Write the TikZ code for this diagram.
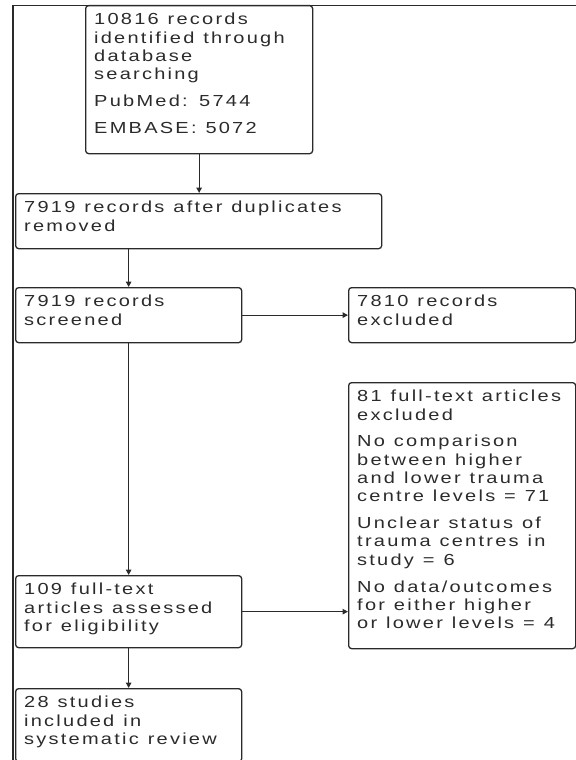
\documentclass[tikz,border=0pt]{standalone}
\usepackage{fontspec}
\setmainfont{Liberation Sans}
\newfontfamily\lsfont[FakeStretch=1.25,LetterSpace=14,WordSpace=1.15]{Liberation Sans}
\usetikzlibrary{arrows.meta}
\definecolor{ln}{HTML}{2A2A2A}
\definecolor{tx}{HTML}{2B2B2B}
\tikzset{
  boxx/.style={draw=ln, line width=1.3bp, rounded corners=3bp, anchor=north west, inner sep=0pt},
  txt/.style={anchor=north west, inner sep=0pt, align=left, text=tx,
    font={\fontsize{16bp}{18.3bp}\selectfont\lsfont}},
  arr/.style={draw=ln, line width=1.3bp, -{Triangle[width=5.5bp,length=5.5bp]}},
}
\newcommand{\pgap}{\\[8.5bp]}
\begin{document}
\begin{tikzpicture}[x=1bp,y=-1bp]
\useasboundingbox (0,0) rectangle (576,760);
% frame
\draw[ln, line width=1.1bp] (576,5.5) -- (13,5.5) -- (13,770);
% boxes
\node[boxx, minimum width=227bp, minimum height=148bp] (b1) at (85,5) {};
\node[boxx, minimum width=366bp, minimum height=55bp] (b2) at (15,193) {};
\node[boxx, minimum width=226bp, minimum height=55bp] (b3) at (15,287) {};
\node[boxx, minimum width=227bp, minimum height=55bp] (b4) at (348,287) {};
\node[boxx, minimum width=227bp, minimum height=266bp] (b5) at (348,382) {};
\node[boxx, minimum width=226bp, minimum height=72bp] (b6) at (15,575) {};
\node[boxx, minimum width=226bp, minimum height=73bp] (b7) at (15,688) {};
% texts
\node[txt] (t1) at ([xshift=9bp,yshift=-8bp]b1.north west) {10816 records\\identified through\\database\\searching\pgap PubMed: 5744\pgap EMBASE: 5072};
\node[txt] (t2) at ([xshift=9bp,yshift=-8bp]b2.north west) {7919 records after duplicates\\removed};
\node[txt] (t3) at ([xshift=9bp,yshift=-8bp]b3.north west) {7919 records\\screened};
\node[txt] (t4) at ([xshift=9bp,yshift=-8bp]b4.north west) {7810 records\\excluded};
\node[txt] (t5) at ([xshift=9bp,yshift=-8bp]b5.north west) {81 full-text articles\\excluded\pgap No comparison\\between higher\\and lower trauma\\centre levels = 71\pgap Unclear status of\\trauma centres in\\study = 6\pgap No data/outcomes\\for either higher\\or lower levels = 4};
\node[txt] (t6) at ([xshift=9bp,yshift=-8bp]b6.north west) {109 full-text\\articles assessed\\for eligibility};
\node[txt] (t7) at ([xshift=9bp,yshift=-8bp]b7.north west) {28 studies\\included in\\systematic review};
% connectors
\draw[arr] (b1.south) -- (b1.south |- b2.north);
\draw[arr] (b3.north |- b2.south) -- (b3.north);
\draw[arr] (b3.east) -- (b4.west);
\draw[arr] (b3.south) -- (b6.north);
\draw[arr] (b6.east) -- (b6.east -| b5.west);
\draw[arr] (b6.south) -- (b7.north);
\end{tikzpicture}
\end{document}
